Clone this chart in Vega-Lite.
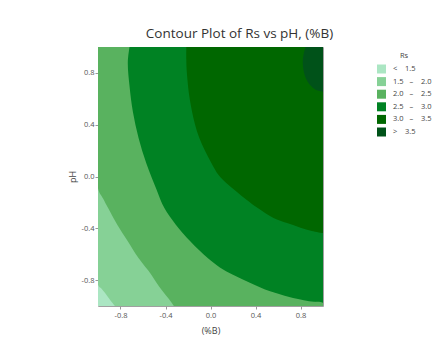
{
  "$schema": "https://vega.github.io/schema/vega-lite/v6.json",
  "width": 225,
  "height": 259,
  "autosize": {"type": "none"},
  "padding": {"left": 98, "top": 47, "right": 114, "bottom": 41},
  "background": "white",
  "title": {"text": "Contour Plot of Rs vs pH, (%B)", "fontSize": 13.5, "font": "Open Sans", "fontWeight": "normal", "color": "#333333", "offset": 7, "dx": 29},
  "data": {"values": [
    {"level": "< 1.5", "y": -1, "x": -1},
    {"level": "< 1.5", "y": 1, "x": -1},

    {"level": "1.5 – 2.0", "y": -1, "x": -0.85},
    {"level": "1.5 – 2.0", "y": -0.95, "x": -0.895},
    {"level": "1.5 – 2.0", "y": -0.9, "x": -0.937},
    {"level": "1.5 – 2.0", "y": -0.865, "x": -0.97},
    {"level": "1.5 – 2.0", "y": -0.835, "x": -1},
    {"level": "1.5 – 2.0", "y": 1, "x": -1},

    {"level": "2.0 – 2.5", "y": -1, "x": -0.325},
    {"level": "2.0 – 2.5", "y": -0.94, "x": -0.375},
    {"level": "2.0 – 2.5", "y": -0.88, "x": -0.43},
    {"level": "2.0 – 2.5", "y": -0.82, "x": -0.48},
    {"level": "2.0 – 2.5", "y": -0.758, "x": -0.526},
    {"level": "2.0 – 2.5", "y": -0.63, "x": -0.64},
    {"level": "2.0 – 2.5", "y": -0.5, "x": -0.735},
    {"level": "2.0 – 2.5", "y": -0.37, "x": -0.83},
    {"level": "2.0 – 2.5", "y": -0.244, "x": -0.91},
    {"level": "2.0 – 2.5", "y": -0.17, "x": -0.955},
    {"level": "2.0 – 2.5", "y": -0.09, "x": -1},
    {"level": "2.0 – 2.5", "y": 1, "x": -1},

    {"level": "2.5 – 3.0", "y": -1, "x": 1},
    {"level": "2.5 – 3.0", "y": -0.976, "x": 1},
    {"level": "2.5 – 3.0", "y": -0.968, "x": 0.92},
    {"level": "2.5 – 3.0", "y": -0.955, "x": 0.83},
    {"level": "2.5 – 3.0", "y": -0.93, "x": 0.7},
    {"level": "2.5 – 3.0", "y": -0.887, "x": 0.53},
    {"level": "2.5 – 3.0", "y": -0.82, "x": 0.35},
    {"level": "2.5 – 3.0", "y": -0.758, "x": 0.2},
    {"level": "2.5 – 3.0", "y": -0.7, "x": 0.08},
    {"level": "2.5 – 3.0", "y": -0.63, "x": -0.025},
    {"level": "2.5 – 3.0", "y": -0.5, "x": -0.18},
    {"level": "2.5 – 3.0", "y": -0.37, "x": -0.31},
    {"level": "2.5 – 3.0", "y": -0.244, "x": -0.41},
    {"level": "2.5 – 3.0", "y": -0.1, "x": -0.48},
    {"level": "2.5 – 3.0", "y": 0.1, "x": -0.57},
    {"level": "2.5 – 3.0", "y": 0.3, "x": -0.64},
    {"level": "2.5 – 3.0", "y": 0.5, "x": -0.69},
    {"level": "2.5 – 3.0", "y": 0.7, "x": -0.72},
    {"level": "2.5 – 3.0", "y": 0.88, "x": -0.735},
    {"level": "2.5 – 3.0", "y": 1, "x": -0.72},

    {"level": "3.0 – 3.5", "y": -0.437, "x": 1},
    {"level": "3.0 – 3.5", "y": -0.42, "x": 0.9},
    {"level": "3.0 – 3.5", "y": -0.395, "x": 0.8},
    {"level": "3.0 – 3.5", "y": -0.36, "x": 0.68},
    {"level": "3.0 – 3.5", "y": -0.32, "x": 0.56},
    {"level": "3.0 – 3.5", "y": -0.244, "x": 0.42},
    {"level": "3.0 – 3.5", "y": -0.18, "x": 0.32},
    {"level": "3.0 – 3.5", "y": -0.116, "x": 0.23},
    {"level": "3.0 – 3.5", "y": -0.05, "x": 0.14},
    {"level": "3.0 – 3.5", "y": 0.013, "x": 0.07},
    {"level": "3.0 – 3.5", "y": 0.1, "x": 0.01},
    {"level": "3.0 – 3.5", "y": 0.2, "x": -0.05},
    {"level": "3.0 – 3.5", "y": 0.3, "x": -0.1},
    {"level": "3.0 – 3.5", "y": 0.41, "x": -0.14},
    {"level": "3.0 – 3.5", "y": 0.6, "x": -0.185},
    {"level": "3.0 – 3.5", "y": 0.8, "x": -0.21},
    {"level": "3.0 – 3.5", "y": 0.9, "x": -0.215},
    {"level": "3.0 – 3.5", "y": 1, "x": -0.215},

    {"level": "> 3.5", "y": 0.655, "x": 1},
    {"level": "> 3.5", "y": 0.67, "x": 0.935},
    {"level": "> 3.5", "y": 0.7, "x": 0.892},
    {"level": "> 3.5", "y": 0.75, "x": 0.853},
    {"level": "> 3.5", "y": 0.8, "x": 0.832},
    {"level": "> 3.5", "y": 0.88, "x": 0.82},
    {"level": "> 3.5", "y": 0.95, "x": 0.829},
    {"level": "> 3.5", "y": 1, "x": 0.845}
  ]},
  "encoding": {
    "y": {
      "field": "y", "type": "quantitative",
      "scale": {"domain": [-1, 1], "nice": false, "zero": false},
      "title": "pH",
      "axis": {
        "values": [-0.8, -0.4, 0, 0.4, 0.8],
        "labelExpr": "replace(format(datum.value, '.1f'), '\u2212', '-')",
        "labelFontSize": 7.5, "labelColor": "#555555", "labelFont": "Open Sans",
        "tickColor": "#999999", "tickSize": 3, "labelPadding": 1,
        "domain": false, "grid": false,
        "titleFontSize": 9, "titleFont": "Open Sans", "titleFontWeight": "normal", "titleColor": "#444444", "titlePadding": 4
      }
    },
    "x": {
      "field": "x", "type": "quantitative", "stack": null,
      "scale": {"domain": [-1, 1], "nice": false, "zero": false},
      "title": "(%B)",
      "axis": {
        "values": [-0.8, -0.4, 0, 0.4, 0.8],
        "labelExpr": "replace(format(datum.value, '.1f'), '\u2212', '-')",
        "labelFontSize": 7.5, "labelColor": "#555555", "labelFont": "Open Sans",
        "tickColor": "#999999", "tickSize": 3, "labelPadding": 2,
        "domain": false, "grid": false,
        "titleFontSize": 9, "titleFont": "Open Sans", "titleFontWeight": "normal", "titleColor": "#444444", "titlePadding": 8
      }
    },
    "x2": {"datum": 1},
    "color": {
      "field": "level", "type": "nominal",
      "scale": {
        "domain": ["< 1.5", "1.5 – 2.0", "2.0 – 2.5", "2.5 – 3.0", "3.0 – 3.5", "> 3.5"],
        "range": ["#abe6c3", "#86d196", "#59b25f", "#008223", "#006700", "#005219"]
      },
      "legend": {
        "orient": "none", "legendX": 279, "legendY": 5,
        "title": "Rs", "titleFontSize": 7.5, "titleFont": "Open Sans", "titleFontWeight": "normal", "titleColor": "#444444",
        "titleAnchor": "middle", "titlePadding": 5,
        "symbolType": "square", "symbolSize": 81, "symbolStrokeWidth": 0, "symbolOpacity": 1,
        "labelFontSize": 7.5, "labelFont": "Open Sans", "labelColor": "#444444", "labelOffset": 7,
        "rowPadding": 3.6, "padding": 0,
        "labelExpr": "datum.label == '< 1.5' ? '\u00a0\u00a0\u00a0\u00a0\u00a0\u00a0\u00a0<\u00a0\u00a0\u00a0\u00a01.5' : datum.label == '> 3.5' ? '\u00a0\u00a0\u00a0\u00a0\u00a0\u00a0\u00a0>\u00a0\u00a0\u00a0\u00a03.5' : replace(datum.label, ' – ', '\u00a0\u00a0\u00a0–\u00a0\u00a0\u00a0\u00a0')"
      }
    }
  },
  "layer": [
    {"transform": [{"filter": {"field": "level", "equal": "< 1.5"}}], "mark": {"type": "area", "orient": "horizontal", "interpolate": "catmull-rom", "clip": true}},
    {"transform": [{"filter": {"field": "level", "equal": "1.5 – 2.0"}}], "mark": {"type": "area", "orient": "horizontal", "interpolate": "catmull-rom", "clip": true}},
    {"transform": [{"filter": {"field": "level", "equal": "2.0 – 2.5"}}], "mark": {"type": "area", "orient": "horizontal", "interpolate": "catmull-rom", "clip": true}},
    {"transform": [{"filter": {"field": "level", "equal": "2.5 – 3.0"}}], "mark": {"type": "area", "orient": "horizontal", "interpolate": "catmull-rom", "clip": true}},
    {"transform": [{"filter": {"field": "level", "equal": "3.0 – 3.5"}}], "mark": {"type": "area", "orient": "horizontal", "interpolate": "catmull-rom", "clip": true}},
    {"transform": [{"filter": {"field": "level", "equal": "> 3.5"}}], "mark": {"type": "area", "orient": "horizontal", "interpolate": "catmull-rom", "clip": true}}
  ],
  "config": {
    "view": {"stroke": "#a0a0a0", "strokeWidth": 1}
  }
}
